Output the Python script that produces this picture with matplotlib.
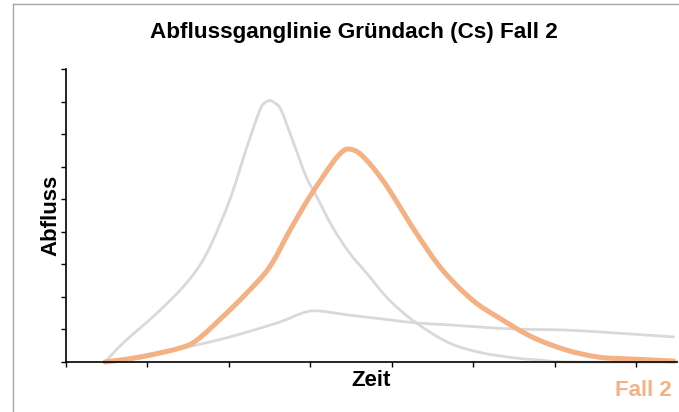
import matplotlib
matplotlib.use('Agg')
import matplotlib.pyplot as plt
from matplotlib.lines import Line2D
from matplotlib.path import Path
from matplotlib.patches import PathPatch

# values (time in ticks, discharge in tick units)
t_fast = [0.48, 0.70, 1.12, 1.48, 1.73, 2.01, 2.22, 2.38, 2.44, 2.50, 2.56, 2.64,
          2.78, 2.95, 3.08, 3.27, 3.48, 3.69, 3.97, 4.30, 4.71, 5.11, 5.53, 5.81, 6.2, 7.5]
q_fast = [0.0, 0.58, 1.51, 2.43, 3.35, 4.98, 6.60, 7.74, 7.96, 8.03, 7.96, 7.74,
          6.82, 5.68, 5.07, 4.15, 3.35, 2.73, 1.90, 1.20, 0.58, 0.28, 0.12, 0.06, 0.0, 0.0]

t_slow = [0.48, 1.48, 2.01, 2.59, 2.90, 3.09, 3.48, 3.89, 4.30, 4.71, 5.11, 5.53,
          6.14, 6.75, 7.46]
q_slow = [0.0, 0.46, 0.77, 1.20, 1.50, 1.57, 1.44, 1.32, 1.20, 1.14, 1.07, 1.01,
          0.98, 0.89, 0.77]

t_fall2 = [0.48, 0.91, 1.40, 1.61, 1.92, 2.22, 2.50, 2.75, 2.99, 3.27, 3.40, 3.48,
           3.58, 3.69, 3.81, 3.97, 4.30, 4.62, 4.99, 5.32, 5.72, 6.14, 6.54, 6.95, 7.46]
q_fall2 = [0.0, 0.15, 0.43, 0.68, 1.38, 2.12, 2.92, 4.05, 5.07, 6.11, 6.48, 6.54,
           6.45, 6.20, 5.84, 5.28, 3.96, 2.83, 1.90, 1.35, 0.77, 0.37, 0.15, 0.09, 0.03]


def smooth_line(ax, xs, ys, **kw):
    # smoothed line like the spreadsheet draws it: cubic Bezier through the points
    pts = list(zip(xs, ys))
    verts = [pts[0]]
    codes = [Path.MOVETO]
    n = len(pts)
    for i in range(n - 1):
        p0 = pts[max(i - 1, 0)]
        p1 = pts[i]
        p2 = pts[i + 1]
        p3 = pts[min(i + 2, n - 1)]
        c1 = (p1[0] + (p2[0] - p0[0]) / 6, p1[1] + (p2[1] - p0[1]) / 6)
        c2 = (p2[0] - (p3[0] - p1[0]) / 6, p2[1] - (p3[1] - p1[1]) / 6)
        verts += [c1, c2, p2]
        codes += [Path.CURVE4] * 3
    patch = PathPatch(Path(verts, codes), fill=False, capstyle='round',
                      joinstyle='round', clip_on=False, **kw)
    ax.add_patch(patch)


plt.rcParams['font.family'] = ['Liberation Sans', 'DejaVu Sans']

fig = plt.figure(figsize=(6.79, 4.12), dpi=100)
ax = fig.add_axes([66 / 679, 50 / 412, 611 / 679, 293 / 412])

grey = '#d9d9d9'
orange = '#f4b183'
smooth_line(ax, t_fast, q_fast, edgecolor=grey, linewidth=2)
smooth_line(ax, t_slow, q_slow, edgecolor=grey, linewidth=2)
smooth_line(ax, t_fall2, q_fall2, edgecolor=orange, linewidth=3.6)

ax.set_xlim(0, 7.5)
ax.set_ylim(0, 9)
ax.set_xticks(range(0, 8))
ax.set_yticks(range(0, 10))
ax.set_xticklabels([])
ax.set_yticklabels([])
ax.tick_params(length=3.8, width=1, color='black')
for s in ['top', 'right']:
    ax.spines[s].set_visible(False)
for s in ['left', 'bottom']:
    ax.spines[s].set_linewidth(1.2)
ax.patch.set_visible(False)

ax.set_xlabel('Zeit', fontsize=16, fontweight='bold', va='baseline')
ax.xaxis.set_label_coords(0.5, -0.082)
ax.set_ylabel('Abfluss', fontsize=16, fontweight='bold', va='center')
ax.yaxis.set_label_coords(-0.025, 0.5)

fig.text(353.5 / 679, (412 - 38) / 412, 'Abflussganglinie Gründach (Cs) Fall 2',
         fontsize=16.2, fontweight='bold', ha='center', va='baseline')
fig.text(672 / 679, (412 - 395.5) / 412, 'Fall 2', fontsize=16, fontweight='bold',
         color=orange, ha='right', va='baseline')

# frame of the slide around the chart
fig.add_artist(Line2D([13 / 679, 1], [1 - 4 / 412, 1 - 4 / 412], color='#a6a6a6', linewidth=1))
fig.add_artist(Line2D([13 / 679, 13 / 679], [0, 1 - 4 / 412], color='#a6a6a6', linewidth=1))

fig.savefig('out.png', dpi=100)
